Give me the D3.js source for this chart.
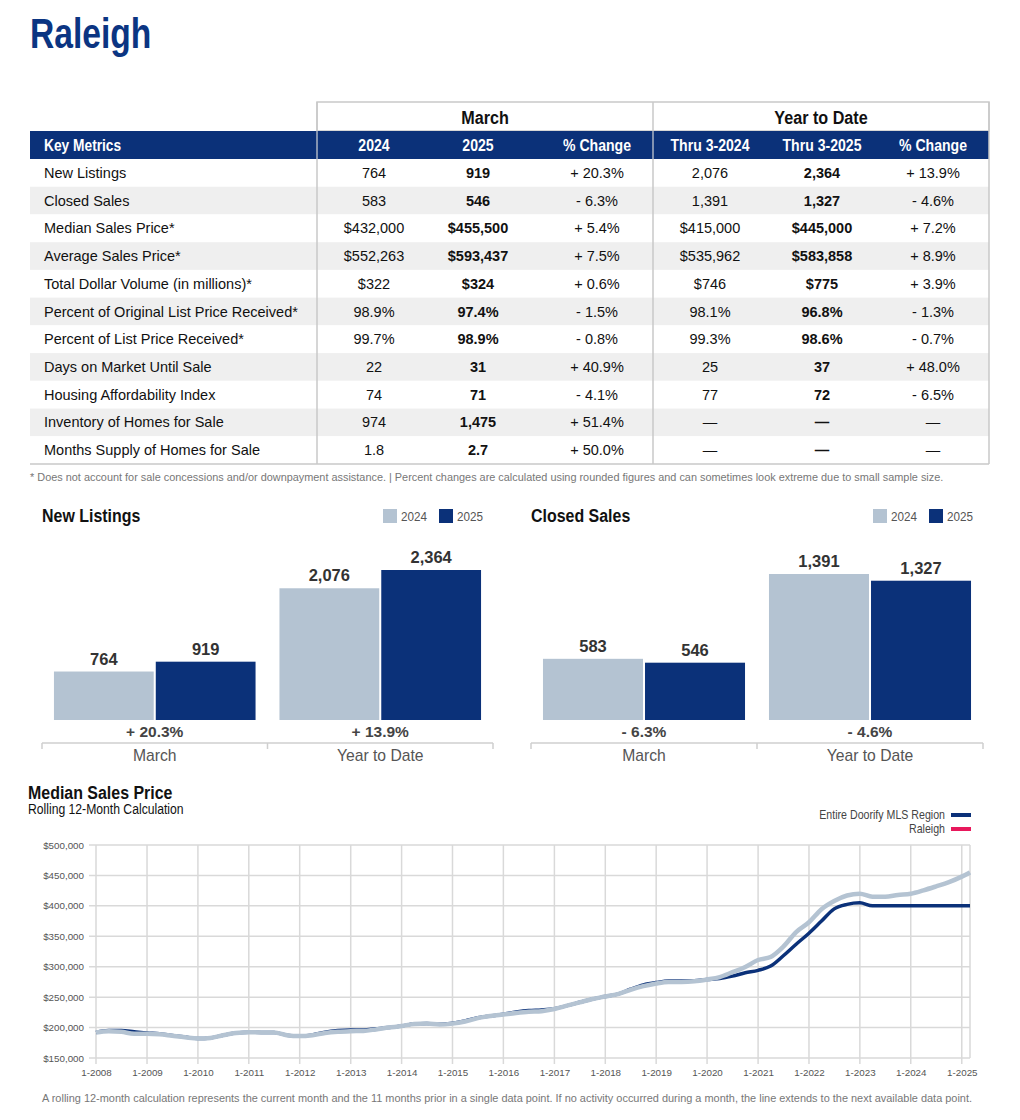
<!DOCTYPE html>
<html>
<head>
<meta charset="utf-8">
<script src="https://cdn.jsdelivr.net/npm/d3@7"></script>
<style>
  body { margin: 0; background: #fff; }
  svg { display: block; }
</style>
</head>
<body>
<script>
// ---- table data ----
const metrics = [
  "New Listings", "Closed Sales", "Median Sales Price*", "Average Sales Price*",
  "Total Dollar Volume (in millions)*", "Percent of Original List Price Received*",
  "Percent of List Price Received*", "Days on Market Until Sale",
  "Housing Affordability Index", "Inventory of Homes for Sale", "Months Supply of Homes for Sale"
];
const march2024 = ["764", "583", "$432,000", "$552,263", "$322", "98.9%", "99.7%", "22", "74", "974", "1.8"];
const march2025 = ["919", "546", "$455,500", "$593,437", "$324", "97.4%", "98.9%", "31", "71", "1,475", "2.7"];
const marchChange = ["+ 20.3%", "- 6.3%", "+ 5.4%", "+ 7.5%", "+ 0.6%", "- 1.5%", "- 0.8%", "+ 40.9%", "- 4.1%", "+ 51.4%", "+ 50.0%"];
const ytd2024 = ["2,076", "1,391", "$415,000", "$535,962", "$746", "98.1%", "99.3%", "25", "77", "—", "—"];
const ytd2025 = ["2,364", "1,327", "$445,000", "$583,858", "$775", "96.8%", "98.6%", "37", "72", "—", "—"];
const ytdChange = ["+ 13.9%", "- 4.6%", "+ 7.2%", "+ 8.9%", "+ 3.9%", "- 1.3%", "- 0.7%", "+ 48.0%", "- 6.5%", "—", "—"];
const tableColumns = ["2024", "2025", "% Change", "Thru 3-2024", "Thru 3-2025", "% Change"];

// ---- bar chart data ----
const barGroups = ["March", "Year to Date"];
const barYears = ["2024", "2025"];
const newListings2024 = [764, 2076];
const newListings2025 = [919, 2364];
const newListingsChange = ["+ 20.3%", "+ 13.9%"];
const closedSales2024 = [583, 1391];
const closedSales2025 = [546, 1327];
const closedSalesChange = ["- 6.3%", "- 4.6%"];

// ---- median sales price (rolling 12 month), quarterly readings, in $1000 ----
const raleighPrice = [
  192, 194, 193, 190,   190, 189, 186.5, 184,   182, 183, 187.5, 191,
  192.5, 192, 192, 187.5,   186, 187.5, 191, 193,   194, 194.5, 197, 200,
  202.5, 206, 206.5, 205,   206.5, 210, 215.5, 219,   221.5, 224, 226, 227,
  230.5, 236, 241.5, 247,   251, 255, 262, 268,   272.5, 275, 275, 276,
  279, 283, 291, 299.5,   311, 316, 333, 357,   373, 394.5, 408, 417,
  420, 415, 415, 418,   420, 425.5, 432, 439,   448, 455
];
const regionPrice = [
  192, 195, 195, 193,   191, 190, 187, 184.5,   182, 183, 187.5, 191,
  192.5, 192, 192, 187.5,   186, 188, 192.5, 195,   196, 196, 198, 200,
  202.5, 206, 206.5, 205.5,   207, 211, 216, 219,   222, 225.5, 228, 229,
  231, 236, 241.5, 247,   251, 255, 263, 270,   274, 276.5, 276.5, 277,
  279, 280.5, 284.5, 290,   294, 301, 318, 337,   355, 375, 395, 402.5,
  405, 400, 400, 400,   400, 400, 400, 400,   400, 400
];
const priceDates = d3.utcMonths(new Date(Date.UTC(2008, 0, 1)), new Date(Date.UTC(2025, 0, 2)), 3)
  .concat([new Date(Date.UTC(2025, 2, 1))]);
const priceTicks = [150000, 200000, 250000, 300000, 350000, 400000, 450000, 500000];

// ---- styles ----
const NAVY = "#0b3179";
const LIGHT = "#b4c3d2";
const SANS = "'Liberation Sans', Arial, Helvetica, sans-serif";

const svg = d3.select("body").append("svg").attr("width", 1020).attr("height", 1120);

// condensed-looking text: squeeze a sans face horizontally
function ctext(parent, x, y, str, o) {
  o = o || {};
  return parent.append("text")
    .attr("transform", `translate(${x},${y}) scale(${o.sx || 0.84},1)`)
    .attr("text-anchor", o.anchor || "start")
    .attr("font-family", SANS)
    .attr("font-weight", o.weight || "bold")
    .attr("font-size", o.size || 16)
    .attr("fill", o.fill || "#111")
    .text(str);
}

// title
ctext(svg, 30, 48, "Raleigh", { size: 42, sx: 0.8, fill: "#0b3582" });

// ================= TABLE =================
const tLeft = 30, tRight = 989, tMid1 = 317, tMid2 = 653;
const rowY = d3.scaleBand().domain(metrics).range([159, 464]);
const colCenters = [374, 478, 597, 710, 822, 933];

const table = svg.append("g");
table.append("rect").attr("x", tMid1).attr("y", 102).attr("width", tRight - tMid1).attr("height", 29)
  .attr("fill", "#fff").attr("stroke", "#c9c9c9").attr("stroke-width", 1.5);
ctext(table, (tMid1 + tMid2) / 2, 124, "March", { size: 19, anchor: "middle", sx: 0.85 });
ctext(table, (tMid2 + tRight) / 2, 124, "Year to Date", { size: 19, anchor: "middle", sx: 0.85 });

// striped rows
table.selectAll("rect.row").data(metrics).enter().append("rect")
  .attr("class", "row")
  .attr("x", tLeft).attr("width", tRight - tLeft)
  .attr("y", d => rowY(d)).attr("height", rowY.bandwidth())
  .attr("fill", (d, i) => i % 2 === 1 ? "#efefef" : "#fff");

// navy header row
table.append("rect").attr("x", tLeft).attr("y", 131).attr("width", tRight - tLeft).attr("height", 28).attr("fill", NAVY);
ctext(table, 44, 151, "Key Metrics", { size: 16, fill: "#fff", sx: 0.86 });
tableColumns.forEach((c, i) => ctext(table, colCenters[i], 151, c, { size: 16, fill: "#fff", anchor: "middle", sx: 0.88 }));

// cell text
const columnsData = [march2024, march2025, marchChange, ytd2024, ytd2025, ytdChange];
const boldCols = [1, 4];
metrics.forEach((m, r) => {
  const y = rowY(m) + rowY.bandwidth() / 2 + 5;
  table.append("text").attr("x", 44).attr("y", y)
    .attr("font-family", SANS).attr("font-size", 14.5).attr("fill", "#111").text(m);
  columnsData.forEach((col, c) => {
    table.append("text").attr("x", colCenters[c]).attr("y", y).attr("text-anchor", "middle")
      .attr("font-family", SANS).attr("font-size", 14.5)
      .attr("font-weight", boldCols.includes(c) ? "bold" : "normal")
      .attr("fill", "#111").text(col[r]);
  });
});

// table lines
const lineColor = "#c9c9c9";
[tMid1, tMid2, tRight].forEach(x => {
  table.append("line").attr("x1", x).attr("x2", x).attr("y1", 102).attr("y2", 464)
    .attr("stroke", lineColor).attr("stroke-width", 1.5);
});
[tMid1, tMid2].forEach(x => {
  table.append("line").attr("x1", x).attr("x2", x).attr("y1", 131).attr("y2", 159)
    .attr("stroke", "#6d83ad").attr("stroke-width", 1);
});
table.append("line").attr("x1", tLeft).attr("x2", tRight).attr("y1", 464).attr("y2", 464)
  .attr("stroke", lineColor).attr("stroke-width", 1.5);

svg.append("text").attr("x", 30).attr("y", 481)
  .attr("font-family", SANS).attr("font-size", 10.9).attr("fill", "#777")
  .text("* Does not account for sale concessions and/or downpayment assistance. | Percent changes are calculated using rounded figures and can sometimes look extreme due to small sample size.");

// ================= BAR CHARTS =================
function barChart(title, left, right, top, v2024, v2025, changes) {
  const g = svg.append("g");
  const baseY = 720;
  ctext(g, left, 522, title, { size: 19, sx: 0.84 });

  // legend
  const legX = right - 110;
  barYears.forEach((yr, i) => {
    g.append("rect").attr("x", legX + i * 56).attr("y", 509).attr("width", 14).attr("height", 14)
      .attr("fill", i === 0 ? LIGHT : NAVY);
    ctext(g, legX + 18 + i * 56, 521, yr, { size: 13, weight: "normal", fill: "#555", sx: 0.9 });
  });

  const x0 = d3.scaleBand().domain(barGroups).range([left, right]).paddingInner(0.106).paddingOuter(0.053);
  const x1 = d3.scaleBand().domain(barYears).range([0, x0.bandwidth()]).paddingInner(0.02);
  const y = d3.scaleLinear().domain([0, d3.max(v2024.concat(v2025))]).range([baseY, top]);

  const rows = barGroups.map((grp, i) => ({ grp, vals: [v2024[i], v2025[i]], change: changes[i] }));
  const groups = g.selectAll("g.grp").data(rows).enter().append("g")
    .attr("transform", d => `translate(${x0(d.grp)},0)`);

  groups.selectAll("rect").data(d => d.vals.map((v, j) => ({ yr: barYears[j], v }))).enter().append("rect")
    .attr("x", d => x1(d.yr)).attr("width", x1.bandwidth())
    .attr("y", d => y(d.v)).attr("height", d => baseY - y(d.v))
    .attr("fill", d => d.yr === "2024" ? LIGHT : NAVY);

  groups.selectAll("text.val").data(d => d.vals.map((v, j) => ({ yr: barYears[j], v }))).enter().append("text")
    .attr("class", "val")
    .attr("x", d => x1(d.yr) + x1.bandwidth() / 2).attr("y", d => y(d.v) - 7)
    .attr("text-anchor", "middle").attr("font-family", SANS).attr("font-weight", "bold")
    .attr("font-size", 16.5).attr("fill", "#333").text(d => d3.format(",")(d.v));

  groups.append("text").attr("x", x0.bandwidth() / 2).attr("y", 737)
    .attr("text-anchor", "middle").attr("font-family", SANS).attr("font-weight", "bold")
    .attr("font-size", 15.5).attr("fill", "#444").text(d => d.change);

  // category axis
  g.append("line").attr("x1", left).attr("x2", right).attr("y1", 743).attr("y2", 743)
    .attr("stroke", "#cfcfcf").attr("stroke-width", 1.5);
  [left, (left + right) / 2, right].forEach(tx => {
    g.append("line").attr("x1", tx).attr("x2", tx).attr("y1", 743).attr("y2", 749)
      .attr("stroke", "#cfcfcf").attr("stroke-width", 1.5);
  });
  g.selectAll("text.cat").data(barGroups).enter().append("text")
    .attr("class", "cat")
    .attr("x", d => x0(d) + x0.bandwidth() / 2).attr("y", 760.5)
    .attr("text-anchor", "middle").attr("font-family", SANS).attr("font-size", 15.7).attr("fill", "#555")
    .text(d => d);
}
barChart("New Listings", 42, 493, 570, newListings2024, newListings2025, newListingsChange);
barChart("Closed Sales", 531, 983, 574, closedSales2024, closedSales2025, closedSalesChange);

// ================= LINE CHART =================
const lc = svg.append("g");
ctext(lc, 28, 799, "Median Sales Price", { size: 19, sx: 0.84 });
ctext(lc, 28, 814, "Rolling 12-Month Calculation", { size: 14, weight: "normal", sx: 0.87 });

const legendItems = [{ name: "Entire Doorify MLS Region", color: NAVY }, { name: "Raleigh", color: "#e8185c" }];
legendItems.forEach((d, i) => {
  ctext(lc, 945, 819 + i * 14, d.name, { size: 12.5, weight: "normal", fill: "#444", anchor: "end", sx: 0.85 });
  lc.append("line").attr("x1", 951).attr("x2", 971).attr("y1", 815 + i * 14).attr("y2", 815 + i * 14)
    .attr("stroke", d.color).attr("stroke-width", 4);
});

const x = d3.scaleUtc().domain([new Date(Date.UTC(2008, 0, 1)), new Date(Date.UTC(2025, 2, 1))]).range([96, 970]);
const y = d3.scaleLinear().domain([150000, 500000]).range([1058, 845]);
const yearTicks = d3.utcYears(new Date(Date.UTC(2008, 0, 1)), new Date(Date.UTC(2025, 1, 1)));

// grid
lc.selectAll("line.hgrid").data(priceTicks).enter().append("line")
  .attr("x1", 89).attr("x2", 970).attr("y1", d => y(d)).attr("y2", d => y(d))
  .attr("stroke", "#d9d9d9").attr("stroke-width", 1.5);
lc.selectAll("line.vgrid").data(yearTicks).enter().append("line")
  .attr("x1", d => x(d)).attr("x2", d => x(d)).attr("y1", 845).attr("y2", 1064)
  .attr("stroke", "#d9d9d9").attr("stroke-width", 1.5);
lc.append("line").attr("x1", 970).attr("x2", 970).attr("y1", 845).attr("y2", 1058)
  .attr("stroke", "#d9d9d9").attr("stroke-width", 1.5);

const yAxis = lc.append("g").attr("transform", "translate(89,0)")
  .call(d3.axisLeft(y).tickValues(priceTicks).tickFormat(d3.format("$,")).tickSize(0).tickPadding(5));
yAxis.select(".domain").remove();
yAxis.selectAll("text").attr("font-family", SANS).attr("font-size", 9.8).attr("fill", "#555");

const xAxis = lc.append("g").attr("transform", "translate(0,1065)")
  .call(d3.axisBottom(x).tickValues(yearTicks).tickFormat(d3.utcFormat("%-m-%Y")).tickSize(0).tickPadding(4));
xAxis.select(".domain").remove();
xAxis.selectAll("text").attr("font-family", SANS).attr("font-size", 9.8).attr("fill", "#555");

const line = d3.line().x((d, i) => x(priceDates[i])).y(d => y(d * 1000)).curve(d3.curveMonotoneX);
lc.append("path").datum(regionPrice).attr("d", line)
  .attr("fill", "none").attr("stroke", NAVY).attr("stroke-width", 3.5).attr("stroke-linejoin", "round");
lc.append("path").datum(raleighPrice).attr("d", line)
  .attr("fill", "none").attr("stroke", LIGHT).attr("stroke-width", 4.5).attr("stroke-linejoin", "round");

svg.append("text").attr("x", 42).attr("y", 1102)
  .attr("font-family", SANS).attr("font-size", 10.95).attr("fill", "#777")
  .text("A rolling 12-month calculation represents the current month and the 11 months prior in a single data point. If no activity occurred during a month, the line extends to the next available data point.");
</script>
</body>
</html>
